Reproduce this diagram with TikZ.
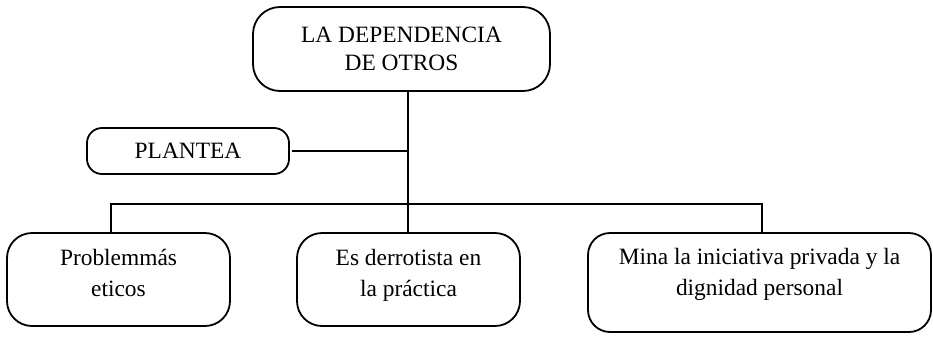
\documentclass[tikz,border=0pt]{standalone}
\usepackage{fontspec}
\setmainfont{Liberation Serif}
\begin{document}
\begin{tikzpicture}[x=1bp,y=-1bp,
  box/.style={draw, line width=1.8bp, rounded corners=#1, inner sep=0pt},
  box/.default=25bp,
  conn/.style={line width=1.8bp},
  toptxt/.style={font=\fontsize{23.4bp}{28bp}\selectfont, align=center},
  boxtxt/.style={font=\fontsize{23.4bp}{30.5bp}\selectfont, align=center, inner sep=0pt}]
\useasboundingbox (0,0) rectangle (933,336);
% boxes
\node[box=27bp, toptxt, minimum width=297bp, minimum height=84bp] (top) at (401.5,49) {LA DEPENDENCIA\\DE OTROS};
\node[box=15bp, toptxt, minimum width=202bp, minimum height=46bp] (pl) at (188,151) {PLANTEA};
\node[box=25bp, minimum width=223bp, minimum height=93bp] (b1) at (118.5,279.5) {};
\node[box=25bp, minimum width=223bp, minimum height=93bp] (b2) at (408.5,279.5) {};
\node[box=22bp, minimum width=343bp, minimum height=99bp] (b3) at (759.5,282.5) {};
% texts of lower boxes
\node[boxtxt, anchor=base] (t1) at (b1.center |- 0,296) {Problemmás\\eticos};
\node[boxtxt, anchor=base] (t2) at (b2.center |- 0,296) {Es derrotista en\\la práctica};
\node[boxtxt, anchor=base] (t3) at (b3.center |- 0,295) {Mina la iniciativa privada y la\\dignidad personal};
% connectors
\coordinate (j) at (408,204);
\coordinate (d1) at (111,204);
\coordinate (d3) at (762,204);
\draw[conn] (top.south -| j) -- (b2.north -| j);
\draw[conn] (pl.east) ++(2bp,0) -- (pl.east -| j);
\draw[conn] (b1.north -| d1) -- (d1) -- (d3) -- (b3.north -| d3);
\end{tikzpicture}
\end{document}
